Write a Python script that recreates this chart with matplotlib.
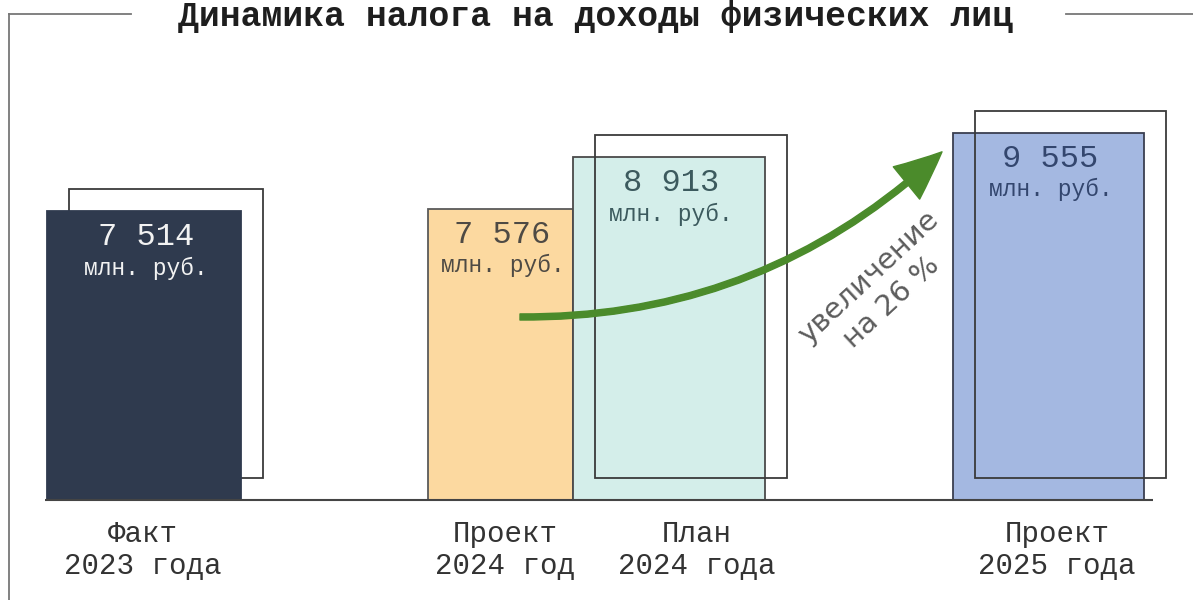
import matplotlib
matplotlib.use("Agg")
import matplotlib.pyplot as plt
from matplotlib.patches import FancyArrowPatch, ArrowStyle
from matplotlib.lines import Line2D

# ---- data ----
title = "Динамика налога на доходы физических лиц"
categories = ["Факт\n2023 года", "Проект\n2024 год", "План\n2024 года", "Проект\n2025 года"]
values = [7514, 7576, 8913, 9555]
unit_label = "млн. руб."
growth_label = "увеличение\nна 26 %"

# ---- layout / style ----
bar_left = [47, 428, 573, 953]
bar_width = [194, 145, 192, 191]
has_shadow = [True, False, True, True]
shadow_front = [False, False, True, True]
label_x = [143, 505, 697, 1057]
bar_colors = ["#2f3a4e", "#fcd9a0", "#d4eeea", "#a4b8e1"]
edge_colors = ["#2f3a4e", "#5a5a5a", "#4a4a4a", "#3a3f50"]
text_colors = ["#f2f2f2", "#4e4a44", "#3c5a5e", "#33466e"]

W, H = 1193, 600
PX = 0.03845  # pixels per value unit
MONO = ["Liberation Mono", "DejaVu Sans Mono"]

fig = plt.figure(figsize=(W / 100, H / 100), dpi=100)
fig.patch.set_facecolor("white")
ax = fig.add_axes([0, 0, 1, 1])
ax.axis("off")
ax.set_xlim(0, W)
ax.set_ylim(-100 / PX, 500 / PX)

off_x, off_y = 22, 22 / PX

for i, v in enumerate(values):
    ax.bar(bar_left[i], v, bar_width[i], align="edge", color=bar_colors[i],
           edgecolor=edge_colors[i], linewidth=1.3, zorder=2)
    if has_shadow[i]:
        ax.bar(bar_left[i] + off_x, v, bar_width[i], bottom=off_y, align="edge",
               fill=False, edgecolor="#3a3a3a", linewidth=1.3,
               zorder=3 if shadow_front[i] else 1)
    cx = bar_left[i] + bar_width[i] / 2
    ax.text(cx + 2, v - 26 / PX, f"{v:,}".replace(",", " "), ha="center", va="center",
            fontsize=23, family=MONO, color=text_colors[i], zorder=5)
    ax.text(cx + 2, v - 57 / PX, unit_label, ha="center", va="center",
            fontsize=16.5, family=MONO, color=text_colors[i], zorder=5)
    ax.text(label_x[i], -50 / PX, categories[i], ha="center", va="center",
            fontsize=21, family=MONO, color="#333333", linespacing=1.2,
            multialignment="center")

# baseline
ax.plot([45, 1153], [0, 0], color="#444444", lw=1.5, zorder=4, solid_capstyle="butt")

# growth arrow
arrow = FancyArrowPatch((520, 4760), (942, values[3] - 500),
                        connectionstyle="arc3,rad=0.2",
                        arrowstyle=ArrowStyle.Simple(head_length=1.7, head_width=1.5, tail_width=0.22),
                        mutation_scale=20, color="#4b8b2b", shrinkA=0, shrinkB=0, zorder=6)
ax.add_patch(arrow)

ax.text(880, (500 - 290) / PX, growth_label, rotation=43, rotation_mode="anchor",
        ha="center", va="center", fontsize=21, color="#5c5c5c", family="DejaVu Sans",
        multialignment="center", linespacing=1.3, zorder=6)

# frame lines
fc = "#777777"
fig.add_artist(Line2D([9 / W, 9 / W], [0, 1 - 14 / H], transform=fig.transFigure, color=fc, lw=1.3))
fig.add_artist(Line2D([9 / W, 131 / W], [1 - 14 / H, 1 - 14 / H], transform=fig.transFigure, color=fc, lw=1.3))
fig.add_artist(Line2D([1066 / W, 1], [1 - 14 / H, 1 - 14 / H], transform=fig.transFigure, color=fc, lw=1.3))

fig.text(596 / W, 1 - 26 / H, title, ha="center", va="baseline", fontsize=25,
         fontweight="bold", family=MONO, color="#1e1e1e")

fig.savefig("out.png", dpi=100, facecolor="white")
